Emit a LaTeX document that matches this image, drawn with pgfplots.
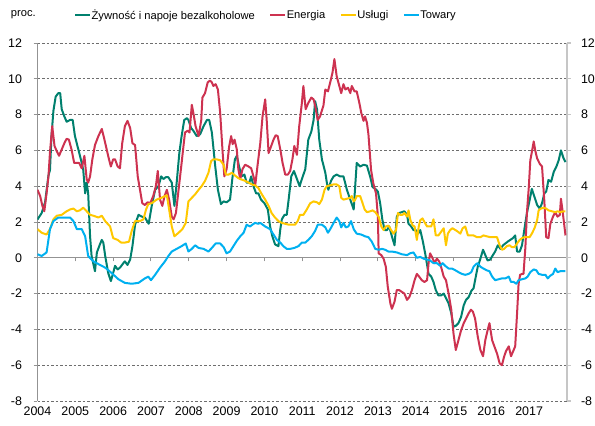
\documentclass[border=0pt]{standalone}
\usepackage{pgfplots}
\pgfplotsset{compat=1.18}
\usepackage{fontspec}
\setmainfont{Liberation Sans}
\definecolor{cfood}{RGB}{0,128,110}
\definecolor{cenergy}{RGB}{205,50,80}
\definecolor{cserv}{RGB}{255,200,0}
\definecolor{cgoods}{RGB}{0,176,240}
\definecolor{cgrid}{RGB}{110,110,110}
\begin{document}
\begin{tikzpicture}
\useasboundingbox (-37.5bp,-25bp) rectangle (557.5bp,401bp);
% background axis: grid, zero line, right axis
\begin{axis}[at={(0,0)},anchor=south west,scale only axis,width=529.5bp,height=358bp,
  xmin=2004,xmax=2018,ymin=-8,ymax=12,
  axis x line=middle, axis y line=right,
  axis line style={-},
  x axis line style={draw=gray!85, line width=0.9bp},
  y axis line style={draw=gray!45, line width=1.8bp},
  xtick={2004,...,2018}, xticklabels={},
  ytick={-8,-6,...,12},
  hide obscured x ticks=false, hide obscured y ticks=false,
  tick align=outside, major tick length=3.5bp,
  xtick style={draw=gray!85, line width=0.9bp},
  ytick style={draw=gray!45, line width=1.2bp},
  ymajorgrids, grid style={cgrid, line width=0.7bp, dash pattern=on 2.5bp off 2bp},
  /pgf/number format/assume math mode=true,
  yticklabel style={font=\fontsize{12.5}{14}\selectfont, anchor=west, xshift=7bp},
]
\end{axis}
% data axis
\begin{axis}[at={(0,0)},anchor=south west,scale only axis,width=529.5bp,height=358bp,
  xmin=2004,xmax=2018,ymin=-8,ymax=12,
  axis x line*=bottom, axis y line*=left,
  x axis line style={draw=none},
  y axis line style={draw=gray!85, line width=0.9bp},
  xtick={2004,...,2017},
  xticklabel={\pgfmathprintnumber[1000 sep={},fixed,precision=0]{\tick}},
  xtick style={draw=none},
  ytick={-8,-6,...,12},
  ytick align=outside, major tick length=4bp,
  ytick style={draw=gray!85, line width=0.9bp},
  /pgf/number format/assume math mode=true,
  yticklabel style={font=\fontsize{12.5}{14}\selectfont, xshift=-8bp},
  xticklabel style={font=\fontsize{12.5}{14}\selectfont, yshift=-2bp},
  no marks,
  every axis plot/.append style={line width=2bp, line join=round},
  legend columns=4,
  legend style={at={(0.0689,1.078)}, anchor=west, draw=none, fill=none, inner sep=0pt,
    font=\fontsize{11.2}{13}\selectfont, column sep=0pt,
    nodes={inner xsep=0.5bp, inner ysep=1bp},
    /tikz/every even column/.append style={column sep=14bp}},
  legend image code/.code={\draw[#1, line width=2bp] (0bp,0bp) -- (15bp,0bp);},
]
\addplot[cfood] coordinates {
(2004.0,2.14)(2004.11,2.5)(2004.2,3.1)(2004.29,4.6)(2004.33,4.9)(2004.37,6.8)(2004.42,8.2)(2004.48,9.0)(2004.55,9.2)(2004.6,9.2)(2004.64,8.3)(2004.71,7.9)(2004.77,7.6)(2004.86,7.7)(2004.93,7.7)(2004.99,6.8)
(2005.08,6.05)(2005.17,5.3)(2005.21,4.9)(2005.26,3.6)(2005.3,4.2)(2005.34,3.6)(2005.39,1.2)(2005.43,0.1)(2005.52,-0.75)(2005.57,0.3)(2005.65,0.75)(2005.7,1.0)(2005.74,0.85)(2005.79,0.1)(2005.87,-0.85)(2005.94,-1.3)
(2006.0,-0.85)(2006.05,-0.45)(2006.12,-0.65)(2006.18,-0.55)(2006.27,-0.3)(2006.31,-0.2)(2006.38,-0.4)(2006.45,-0.1)(2006.51,0.65)(2006.58,1.85)(2006.67,2.4)(2006.76,2.3)(2006.84,2.25)(2006.94,1.9)
(2007.02,2.9)(2007.11,3.8)(2007.2,4.0)(2007.27,4.55)(2007.33,4.4)(2007.39,4.5)(2007.46,4.5)(2007.55,4.2)(2007.62,2.9)(2007.68,4.2)(2007.75,5.85)(2007.81,6.8)(2007.88,7.7)(2007.95,7.8)(2007.99,7.7)
(2008.06,7.25)(2008.12,7.1)(2008.21,6.8)(2008.3,6.9)(2008.39,7.35)(2008.48,7.7)(2008.54,7.7)(2008.61,7.0)(2008.7,5.1)(2008.77,3.8)(2008.85,3.0)(2008.92,3.15)
(2009.0,3.1)(2009.09,3.25)(2009.15,4.4)(2009.22,5.5)(2009.27,5.7)(2009.33,5.1)(2009.4,4.55)(2009.47,4.65)(2009.53,4.2)(2009.6,4.2)(2009.65,4.55)(2009.71,4.0)(2009.78,3.6)(2009.84,3.6)(2009.91,3.25)
(2010.0,3.05)(2010.09,2.7)(2010.15,1.75)(2010.21,1.2)(2010.28,0.75)(2010.37,0.65)(2010.42,1.6)(2010.46,2.15)(2010.53,2.4)(2010.59,2.4)(2010.64,3.25)(2010.71,4.55)(2010.78,4.85)(2010.86,4.4)(2010.93,4.0)(2010.99,4.4)
(2011.08,4.95)(2011.16,6.6)(2011.24,7.05)(2011.3,7.7)(2011.34,8.75)(2011.39,8.3)(2011.45,6.6)(2011.52,5.5)(2011.61,4.75)(2011.65,4.2)(2011.69,3.8)(2011.76,4.3)(2011.83,4.55)(2011.91,4.65)
(2012.0,4.55)(2012.09,4.55)(2012.18,3.8)(2012.27,3.25)(2012.36,2.7)(2012.4,4.0)(2012.44,5.3)(2012.53,5.1)(2012.62,5.2)(2012.71,5.15)(2012.8,4.5)(2012.86,3.95)(2012.93,3.85)
(2013.0,3.7)(2013.06,3.05)(2013.12,2.1)(2013.18,1.55)(2013.24,1.55)(2013.3,1.75)(2013.37,1.2)(2013.44,0.7)(2013.5,2.3)(2013.56,2.5)(2013.63,2.55)(2013.7,2.6)(2013.77,2.4)(2013.81,1.9)(2013.88,1.75)(2013.94,1.55)
(2014.0,1.55)(2014.06,1.35)(2014.12,1.55)(2014.18,1.0)(2014.25,0.25)(2014.34,-0.9)(2014.41,-1.05)(2014.47,-1.35)(2014.53,-1.8)(2014.6,-2.1)(2014.67,-2.1)(2014.74,-2.0)(2014.8,-2.25)(2014.87,-2.55)(2014.94,-3.1)
(2015.0,-3.85)(2015.06,-3.8)(2015.13,-3.65)(2015.2,-3.3)(2015.27,-2.65)(2015.33,-2.35)(2015.4,-2.2)(2015.47,-1.85)(2015.53,-1.7)(2015.57,-1.25)(2015.64,-0.5)(2015.71,-0.05)(2015.78,0.45)(2015.84,0.15)(2015.9,-0.15)(2015.97,-0.1)
(2016.04,0.15)(2016.1,0.35)(2016.17,0.7)(2016.24,0.5)(2016.31,0.7)(2016.37,0.8)(2016.43,0.9)(2016.5,1.0)(2016.57,1.1)(2016.63,1.25)(2016.68,0.35)(2016.75,0.35)(2016.81,0.7)(2016.87,1.55)(2016.94,2.5)
(2017.01,3.2)(2017.07,3.85)(2017.14,3.4)(2017.21,2.95)(2017.28,2.75)(2017.34,3.05)(2017.4,3.6)(2017.45,3.7)(2017.51,4.35)(2017.58,4.25)(2017.65,4.8)(2017.72,5.1)(2017.78,5.45)(2017.84,6.0)(2017.91,5.55)(2017.96,5.35)
};
\addlegendentry{Żywność i napoje bezalkoholowe}
\addplot[cenergy] coordinates {
(2004.0,3.8)(2004.07,3.45)(2004.13,2.9)(2004.18,2.6)(2004.24,3.6)(2004.29,4.55)(2004.33,5.9)(2004.39,7.35)(2004.45,6.25)(2004.51,5.95)(2004.57,5.7)(2004.64,6.05)(2004.71,6.4)(2004.77,6.65)(2004.83,6.6)(2004.9,6.05)(2004.97,5.3)
(2005.04,5.3)(2005.1,5.3)(2005.17,5.0)(2005.24,5.7)(2005.3,4.4)(2005.34,4.2)(2005.39,4.55)(2005.45,5.5)(2005.52,6.3)(2005.61,6.8)(2005.7,7.2)(2005.77,6.6)(2005.83,6.05)(2005.89,5.5)(2005.94,5.1)
(2006.0,5.5)(2006.05,5.5)(2006.12,5.1)(2006.18,5.0)(2006.24,6.4)(2006.31,7.35)(2006.38,7.65)(2006.45,7.25)(2006.51,6.4)(2006.58,6.3)(2006.65,4.55)(2006.71,3.8)(2006.77,3.05)(2006.84,2.95)(2006.91,3.1)(2006.98,3.05)
(2007.06,3.45)(2007.13,4.0)(2007.18,4.85)(2007.24,3.25)(2007.3,2.9)(2007.36,3.45)(2007.42,3.8)(2007.48,3.25)(2007.55,2.3)(2007.6,2.15)(2007.66,2.5)(2007.73,3.8)(2007.8,5.1)(2007.86,6.25)(2007.9,7.0)(2007.97,7.1)
(2008.02,7.0)(2008.08,8.55)(2008.12,8.1)(2008.18,7.35)(2008.26,6.8)(2008.33,7.7)(2008.36,8.95)(2008.43,9.2)(2008.5,9.8)(2008.56,9.9)(2008.61,9.8)(2008.65,9.6)(2008.71,9.7)(2008.77,9.4)(2008.83,8.1)(2008.89,6.05)(2008.94,4.55)
(2009.0,4.95)(2009.07,6.25)(2009.12,6.8)(2009.16,6.35)(2009.21,6.6)(2009.27,6.05)(2009.31,4.95)(2009.36,4.4)(2009.42,4.95)(2009.49,5.2)(2009.58,5.1)(2009.65,5.0)(2009.71,4.55)(2009.76,4.1)(2009.82,5.2)(2009.89,6.4)(2009.95,7.9)
(2010.02,8.85)(2010.06,7.7)(2010.11,5.85)(2010.18,6.25)(2010.24,6.6)(2010.3,6.85)(2010.35,6.8)(2010.42,6.05)(2010.48,5.3)(2010.55,4.65)(2010.62,4.65)(2010.68,4.85)(2010.74,5.5)(2010.79,6.25)(2010.86,5.75)(2010.92,7.35)(2010.99,8.65)
(2011.03,9.6)(2011.09,8.3)(2011.16,8.65)(2011.24,8.95)(2011.3,8.85)(2011.34,8.5)(2011.41,7.7)(2011.47,7.9)(2011.56,8.5)(2011.61,9.4)(2011.68,9.3)(2011.74,9.8)(2011.8,10.35)(2011.85,11.1)(2011.91,10.15)(2011.98,9.6)
(2012.03,9.2)(2012.09,9.7)(2012.14,9.4)(2012.21,9.5)(2012.27,9.2)(2012.31,9.6)(2012.38,9.3)(2012.44,9.3)(2012.51,8.65)(2012.56,8.1)(2012.62,7.65)(2012.66,7.9)(2012.71,7.55)(2012.75,6.9)(2012.82,4.9)(2012.88,4.15)(2012.95,3.6)
(2013.0,2.3)(2013.02,0.25)(2013.09,0.15)(2013.15,-0.05)(2013.21,-0.5)(2013.26,-1.6)(2013.33,-2.55)(2013.37,-2.85)(2013.44,-2.45)(2013.5,-1.8)(2013.56,-1.8)(2013.63,-1.9)(2013.7,-2.0)(2013.77,-2.35)(2013.83,-2.2)(2013.9,-1.8)(2013.97,-1.25)
(2014.03,-0.9)(2014.09,-1.05)(2014.16,-1.25)(2014.23,-1.35)(2014.3,-1.25)(2014.34,-0.3)(2014.38,0.25)(2014.43,0.05)(2014.5,-0.3)(2014.56,-0.05)(2014.62,-0.2)(2014.67,-0.5)(2014.74,-1.05)(2014.8,-1.25)(2014.87,-2.0)(2014.94,-2.9)
(2015.0,-4.25)(2015.06,-5.15)(2015.13,-4.6)(2015.2,-4.05)(2015.27,-3.65)(2015.33,-3.4)(2015.4,-3.1)(2015.46,-2.9)(2015.51,-3.0)(2015.57,-3.4)(2015.64,-4.4)(2015.71,-5.15)(2015.78,-5.5)(2015.84,-4.6)(2015.9,-4.05)(2015.95,-3.65)
(2016.02,-4.6)(2016.08,-4.95)(2016.15,-5.35)(2016.22,-5.9)(2016.28,-6.0)(2016.34,-5.5)(2016.39,-5.2)(2016.46,-4.95)(2016.52,-5.5)(2016.59,-5.15)(2016.63,-4.95)(2016.68,-3.1)(2016.72,-1.45)(2016.76,-0.95)(2016.81,-0.9)(2016.85,-0.9)(2016.9,0.6)(2016.94,2.5)(2016.99,3.95)
(2017.03,5.45)(2017.07,5.9)(2017.12,6.5)(2017.16,6.0)(2017.21,5.55)(2017.28,5.25)(2017.34,5.1)(2017.4,3.2)(2017.45,1.15)(2017.51,1.1)(2017.56,1.9)(2017.63,2.3)(2017.69,2.55)(2017.75,2.3)(2017.81,2.4)(2017.84,3.3)(2017.89,2.5)(2017.96,1.25)
};
\addlegendentry{Energia}
\addplot[cserv] coordinates {
(2004.0,1.6)(2004.11,1.4)(2004.24,1.3)(2004.33,1.6)(2004.42,2.15)(2004.51,2.35)(2004.64,2.4)(2004.77,2.6)(2004.86,2.7)(2004.95,2.75)
(2005.04,2.6)(2005.12,2.65)(2005.21,2.8)(2005.3,2.6)(2005.39,2.4)(2005.48,2.35)(2005.61,2.25)(2005.7,2.35)(2005.79,2.05)(2005.92,1.75)
(2006.0,1.1)(2006.12,1.0)(2006.21,0.85)(2006.31,0.85)(2006.42,0.9)(2006.49,1.5)(2006.58,2.05)(2006.71,2.05)(2006.8,2.15)(2006.87,2.7)(2006.93,3.0)
(2007.02,3.05)(2007.15,3.25)(2007.28,3.35)(2007.42,3.5)(2007.48,2.7)(2007.55,1.75)(2007.62,1.2)(2007.73,1.4)(2007.83,1.6)(2007.92,1.95)(2007.99,3.15)
(2008.08,3.35)(2008.17,3.55)(2008.26,3.8)(2008.34,4.0)(2008.43,4.3)(2008.52,4.75)(2008.59,5.4)(2008.65,5.5)(2008.74,5.5)(2008.83,5.45)(2008.92,5.2)(2008.98,4.65)
(2009.05,4.65)(2009.14,4.75)(2009.22,4.6)(2009.31,4.45)(2009.42,4.35)(2009.49,4.3)(2009.58,4.2)(2009.67,4.1)(2009.75,4.05)(2009.84,3.9)(2009.93,3.55)
(2010.02,3.25)(2010.11,2.9)(2010.19,2.5)(2010.28,2.25)(2010.37,2.05)(2010.46,1.95)(2010.55,1.9)(2010.64,1.85)(2010.72,1.85)(2010.81,1.85)(2010.88,2.05)(2010.94,2.4)
(2011.03,2.4)(2011.12,2.7)(2011.21,3.05)(2011.3,3.15)(2011.39,3.1)(2011.45,3.0)(2011.52,3.25)(2011.59,3.8)(2011.65,4.0)(2011.74,4.05)(2011.83,4.1)(2011.91,4.1)(2011.98,4.0)
(2012.03,3.35)(2012.09,3.25)(2012.18,3.3)(2012.27,3.35)(2012.31,3.45)(2012.36,3.15)(2012.4,3.25)(2012.44,3.45)(2012.53,3.45)(2012.58,3.15)(2012.65,2.7)(2012.71,2.55)(2012.8,2.6)(2012.86,2.65)(2012.93,2.55)
(2013.02,2.3)(2013.09,1.75)(2013.15,1.55)(2013.21,1.75)(2013.28,1.8)(2013.35,1.55)(2013.41,1.35)(2013.48,1.55)(2013.53,2.5)(2013.59,2.4)(2013.65,2.4)(2013.7,2.5)(2013.77,2.3)(2013.81,2.65)(2013.86,2.1)(2013.92,1.8)(2013.97,1.75)
(2014.03,1.0)(2014.08,1.75)(2014.12,2.1)(2014.18,2.2)(2014.23,2.0)(2014.3,1.75)(2014.36,1.75)(2014.41,1.75)(2014.47,2.15)(2014.53,1.25)(2014.6,1.25)(2014.67,1.45)(2014.74,1.65)(2014.8,0.7)(2014.85,1.35)(2014.91,1.55)(2014.97,1.65)
(2015.05,1.55)(2015.12,1.45)(2015.18,1.35)(2015.24,1.65)(2015.31,1.75)(2015.38,1.25)(2015.44,1.25)(2015.53,1.25)(2015.62,1.15)(2015.71,1.15)(2015.79,1.25)(2015.88,1.2)(2015.97,1.15)
(2016.06,1.15)(2016.15,1.15)(2016.22,0.7)(2016.28,0.45)(2016.34,0.5)(2016.41,0.65)(2016.48,0.7)(2016.54,0.6)(2016.61,0.6)(2016.68,0.8)(2016.75,1.0)(2016.81,1.1)(2016.87,1.15)(2016.94,1.15)
(2017.01,1.15)(2017.07,1.35)(2017.14,1.65)(2017.21,2.1)(2017.25,2.65)(2017.31,2.75)(2017.38,2.8)(2017.45,2.75)(2017.51,2.65)(2017.6,2.6)(2017.69,2.55)(2017.75,2.6)(2017.82,2.55)(2017.91,2.6)(2017.96,2.6)
};
\addlegendentry{Usługi}
\addplot[cgoods] coordinates {
(2004.0,0.2)(2004.11,0.1)(2004.24,0.3)(2004.33,1.6)(2004.42,2.05)(2004.55,2.25)(2004.73,2.25)(2004.86,2.25)(2004.95,2.05)
(2005.04,1.6)(2005.17,1.6)(2005.26,1.2)(2005.34,0.1)(2005.48,-0.2)(2005.61,-0.35)(2005.79,-0.55)(2005.96,-0.85)
(2006.14,-1.2)(2006.31,-1.4)(2006.49,-1.45)(2006.67,-1.4)(2006.84,-1.15)(2006.93,-1.05)
(2007.0,-1.25)(2007.11,-0.95)(2007.24,-0.55)(2007.37,-0.2)(2007.46,0.1)(2007.55,0.35)(2007.68,0.5)(2007.81,0.65)(2007.92,0.8)(2007.99,0.35)
(2008.08,0.5)(2008.17,0.7)(2008.26,0.55)(2008.39,0.5)(2008.52,0.35)(2008.61,0.55)(2008.71,0.8)(2008.83,0.8)(2008.92,0.6)
(2009.0,0.25)(2009.09,0.35)(2009.18,0.65)(2009.27,0.95)(2009.36,1.2)(2009.45,1.4)(2009.53,1.85)(2009.62,1.75)(2009.68,1.85)(2009.75,1.95)(2009.84,1.9)(2009.89,1.95)
(2010.02,1.75)(2010.15,1.6)(2010.24,1.3)(2010.33,1.0)(2010.42,0.85)(2010.5,0.65)(2010.59,0.5)(2010.68,0.5)(2010.79,0.55)(2010.9,0.65)(2010.99,0.85)
(2011.08,0.85)(2011.16,1.0)(2011.25,1.2)(2011.34,1.5)(2011.41,1.85)(2011.52,1.85)(2011.61,1.7)(2011.68,1.4)(2011.74,1.6)(2011.83,1.95)(2011.91,2.25)(2011.98,2.05)
(2012.03,1.7)(2012.09,1.95)(2012.15,1.7)(2012.22,1.75)(2012.29,2.05)(2012.36,1.6)(2012.44,1.35)(2012.56,1.3)(2012.66,1.2)(2012.75,1.15)(2012.84,0.9)(2012.93,0.5)
(2013.02,0.45)(2013.11,0.5)(2013.19,0.45)(2013.28,0.35)(2013.37,0.35)(2013.5,0.3)(2013.63,0.2)(2013.77,0.15)(2013.85,0.25)(2013.94,0.3)
(2014.03,0.0)(2014.12,0.05)(2014.21,-0.05)(2014.3,-0.1)(2014.38,-0.15)(2014.47,-0.3)(2014.56,-0.3)(2014.65,-0.45)(2014.71,-0.3)(2014.78,-0.45)(2014.87,-0.6)(2014.96,-0.6)
(2015.05,-0.7)(2015.13,-0.8)(2015.22,-0.9)(2015.31,-0.95)(2015.4,-0.9)(2015.47,-0.8)(2015.53,-0.5)(2015.6,-0.35)(2015.64,-0.3)(2015.71,-0.5)(2015.79,-0.6)(2015.88,-0.7)(2015.95,-0.75)
(2016.02,-1.05)(2016.1,-1.25)(2016.19,-1.2)(2016.28,-1.15)(2016.37,-1.15)(2016.46,-1.05)(2016.52,-1.35)(2016.59,-1.35)(2016.66,-1.45)(2016.72,-1.25)(2016.81,-1.2)(2016.9,-1.15)(2016.96,-1.05)
(2017.03,-0.8)(2017.12,-0.65)(2017.19,-0.7)(2017.25,-0.9)(2017.34,-0.95)(2017.43,-0.95)(2017.49,-1.15)(2017.56,-1.0)(2017.63,-0.9)(2017.69,-0.6)(2017.75,-0.8)(2017.82,-0.75)(2017.91,-0.75)(2017.96,-0.75)
};
\addlegendentry{Towary}
\end{axis}
\node[anchor=west, inner sep=0pt, font=\fontsize{11.2}{13}\selectfont] at (-26.8bp,386bp) {proc.};
\end{tikzpicture}
\end{document}
